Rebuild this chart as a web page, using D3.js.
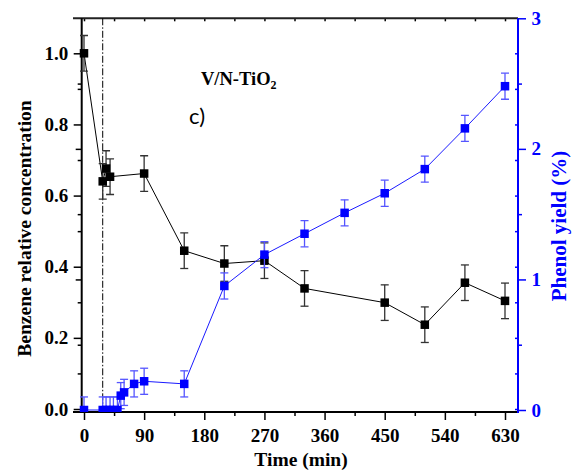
<!DOCTYPE html>
<html>
<head>
<meta charset="utf-8">
<script src="https://cdn.jsdelivr.net/npm/d3@7/dist/d3.min.js"></script>
<style>
  html, body { margin: 0; padding: 0; background: #fff; }
  svg { display: block; }
  .serif { font-family: "Liberation Serif", "Times New Roman", serif; font-weight: bold; }
</style>
</head>
<body>
<svg id="chart" width="573" height="472"></svg>
<script>
// Benzene conversion and phenol yield over V/N-TiO2
const benzeneTime = [0, 28, 33, 39, 90, 150, 210, 270, 330, 450, 510, 570, 630];
const benzeneConc = [1.0, 0.64, 0.676, 0.653, 0.662, 0.445, 0.409, 0.417, 0.339, 0.299, 0.237, 0.355, 0.304];
const benzeneErr  = [0.05, 0.05, 0.05, 0.05, 0.05, 0.05, 0.05, 0.05, 0.05, 0.05, 0.05, 0.05, 0.05];

const phenolTime  = [0, 28, 33, 39, 44, 50, 55, 60, 75, 90, 150, 210, 270, 330, 390, 450, 510, 570, 630];
const phenolYield = [0, 0, 0, 0, 0, 0, 0.11, 0.135, 0.20, 0.22, 0.20, 0.95, 1.19, 1.35, 1.51, 1.66, 1.845, 2.157, 2.48];
const phenolErr   = [0.1, 0.1, 0.1, 0.1, 0.1, 0.1, 0.1, 0.1, 0.1, 0.1, 0.1, 0.1, 0.1, 0.1, 0.1, 0.1, 0.1, 0.1, 0.1];

const lightOnTime = 28;

const xTicks      = [0, 90, 180, 270, 360, 450, 540, 630];
const xMinorTicks = [45, 135, 225, 315, 405, 495, 585];
const xTopTicks   = [0, 45, 90, 135, 180, 225, 270, 315, 360, 405, 450, 495, 540, 585, 630];
const yLeftTicks  = [0, 0.2, 0.4, 0.6, 0.8, 1.0];
const yLeftMinor  = [0.1, 0.3, 0.5, 0.7, 0.9];
const yRightTicks = [0, 1, 2, 3];
const yRightMinor = [0.5, 1.5, 2.5];

const BLUE = "#0000ff";

const svg = d3.select("#chart");

// Scales
const x  = d3.scaleLinear().domain([0, 630]).range([84, 505]);
const yL = d3.scaleLinear().domain([0, 1]).range([409, 53.3]);
const yR = d3.scaleLinear().domain([0, 3]).range([410, 18.3]);

// Frame geometry
const frame = { left: 73, right: 518, top: 18.3, bottom: 412, yAxisX: 81.7 };

svg.append("defs").append("clipPath").attr("id", "plotClip")
  .append("rect")
  .attr("x", frame.left).attr("y", frame.top)
  .attr("width", frame.right - frame.left + 6)
  .attr("height", frame.bottom - frame.top);

function styleAxis(g, color, fontSize) {
  g.select(".domain").remove();
  g.selectAll(".tick line").attr("stroke", color).attr("stroke-width", 1.5);
  g.selectAll(".tick text")
    .attr("class", "serif")
    .attr("fill", color)
    .style("font-size", fontSize + "px");
}

// Bottom axis
svg.append("g").attr("transform", `translate(0,${frame.bottom})`)
  .call(d3.axisBottom(x).tickValues(xTicks).tickSize(8).tickPadding(8.5).tickFormat(d3.format("d")))
  .call(g => styleAxis(g, "#000", 19));
svg.append("g").attr("transform", `translate(0,${frame.bottom})`)
  .call(d3.axisBottom(x).tickValues(xMinorTicks).tickSize(4).tickFormat(""))
  .call(g => styleAxis(g, "#000", 19));

// Top axis (inward ticks)
svg.append("g").attr("transform", `translate(0,${frame.top})`)
  .call(d3.axisBottom(x).tickValues(xTopTicks).tickSize(3).tickFormat(""))
  .call(g => styleAxis(g, "#000", 19));

// Left axis
svg.append("g").attr("transform", `translate(${frame.yAxisX},0)`)
  .call(d3.axisLeft(yL).tickValues(yLeftTicks).tickSize(8).tickPadding(5.5).tickFormat(d3.format(".1f")))
  .call(g => styleAxis(g, "#000", 19));
svg.append("g").attr("transform", `translate(${frame.yAxisX},0)`)
  .call(d3.axisLeft(yL).tickValues(yLeftMinor).tickSize(4).tickFormat(""))
  .call(g => styleAxis(g, "#000", 19));
svg.append("g").attr("transform", `translate(${frame.yAxisX},0)`)
  .call(d3.axisLeft(yR).tickValues([1, 2]).tickSize(6).tickFormat(""))
  .call(g => styleAxis(g, "#000", 19));
svg.append("g").attr("transform", `translate(${frame.yAxisX},0)`)
  .call(d3.axisLeft(yR).tickValues(yRightMinor).tickSize(4).tickFormat(""))
  .call(g => styleAxis(g, "#000", 19));

// Right axis (phenol yield)
svg.append("g").attr("transform", `translate(${frame.right},0)`)
  .call(d3.axisRight(yR).tickValues(yRightTicks).tickSize(8).tickPadding(5.5).tickFormat(d3.format("d")))
  .call(g => styleAxis(g, BLUE, 19));
svg.append("g").attr("transform", `translate(${frame.right},0)`)
  .call(d3.axisRight(yR).tickValues(yRightMinor).tickSize(4).tickFormat(""))
  .call(g => styleAxis(g, BLUE, 19));
svg.append("g").attr("transform", `translate(${frame.right},0)`)
  .call(d3.axisLeft(yL).tickValues(yLeftMinor.concat(yLeftTicks)).tickSize(3).tickFormat(""))
  .call(g => styleAxis(g, BLUE, 19));

// Axis lines
svg.append("line").attr("x1", frame.left).attr("x2", frame.right)
  .attr("y1", frame.top).attr("y2", frame.top)
  .attr("stroke", "#222").attr("stroke-width", 2);
svg.append("line").attr("x1", frame.left).attr("x2", frame.right)
  .attr("y1", frame.bottom).attr("y2", frame.bottom)
  .attr("stroke", "#000").attr("stroke-width", 2);
svg.append("line").attr("x1", frame.yAxisX).attr("x2", frame.yAxisX)
  .attr("y1", frame.top).attr("y2", frame.bottom)
  .attr("stroke", "#000").attr("stroke-width", 2);
svg.append("line").attr("x1", frame.right).attr("x2", frame.right)
  .attr("y1", frame.top).attr("y2", frame.bottom + 1)
  .attr("stroke", BLUE).attr("stroke-width", 2);

// Light-on marker
svg.append("line")
  .attr("x1", x(lightOnTime)).attr("x2", x(lightOnTime))
  .attr("y1", frame.top).attr("y2", frame.bottom)
  .attr("stroke", "#000").attr("stroke-width", 1)
  .attr("stroke-dasharray", "7,2,1.5,2");

const plot = svg.append("g").attr("clip-path", "url(#plotClip)");

function drawSeries(times, vals, errs, yScale, opts) {
  const pts = times.map((t, i) => ({ t, v: vals[i], e: errs[i] }));
  const g = plot.append("g");
  g.append("path").datum(pts)
    .attr("fill", "none").attr("stroke", opts.line).attr("stroke-width", 1)
    .attr("d", d3.line().x(d => x(d.t)).y(d => yScale(d.v)));
  const eb = g.selectAll(".eb").data(pts).join("g").attr("class", "eb")
    .attr("stroke", opts.err).attr("stroke-width", 1.3);
  eb.append("line")
    .attr("x1", d => x(d.t)).attr("x2", d => x(d.t))
    .attr("y1", d => yScale(d.v - d.e)).attr("y2", d => yScale(d.v + d.e));
  eb.append("line")
    .attr("x1", d => x(d.t) - 4).attr("x2", d => x(d.t) + 4)
    .attr("y1", d => yScale(d.v + d.e)).attr("y2", d => yScale(d.v + d.e));
  eb.append("line")
    .attr("x1", d => x(d.t) - 4).attr("x2", d => x(d.t) + 4)
    .attr("y1", d => yScale(d.v - d.e)).attr("y2", d => yScale(d.v - d.e));
  const s = 8.5;
  g.selectAll(".mk").data(pts).join("rect").attr("class", "mk")
    .attr("x", d => x(d.t) - s / 2).attr("y", d => yScale(d.v) - s / 2)
    .attr("width", s).attr("height", s)
    .attr("fill", opts.marker);
}

drawSeries(benzeneTime, benzeneConc, benzeneErr, yL, { line: "#000", err: "#333", marker: "#000" });
drawSeries(phenolTime, phenolYield, phenolErr, yR, { line: "#1a1aff", err: "#5555ff", marker: BLUE });

// Axis titles
svg.append("text").attr("class", "serif")
  .attr("x", 301).attr("y", 466)
  .attr("text-anchor", "middle").style("font-size", "19.5px")
  .text("Time (min)");

svg.append("text").attr("class", "serif")
  .attr("transform", "translate(31,228.5) rotate(-90)")
  .attr("text-anchor", "middle").style("font-size", "19.5px")
  .text("Benzene relative concentration");

svg.append("text").attr("class", "serif")
  .attr("transform", "translate(566,226) rotate(-90)")
  .attr("text-anchor", "middle").style("font-size", "21px")
  .attr("fill", BLUE)
  .text("Phenol yield (%)");

// Catalyst label
const title = svg.append("text").attr("class", "serif")
  .attr("x", 201).attr("y", 85).style("font-size", "18.5px");
title.append("tspan").text("V/N-TiO");
title.append("tspan").attr("dy", 4).style("font-size", "12px").text("2");

svg.append("text")
  .attr("x", 189).attr("y", 124)
  .style("font-family", "Lato, 'Open Sans', sans-serif")
  .style("font-size", "22px")
  .text("c)");
</script>
</body>
</html>
